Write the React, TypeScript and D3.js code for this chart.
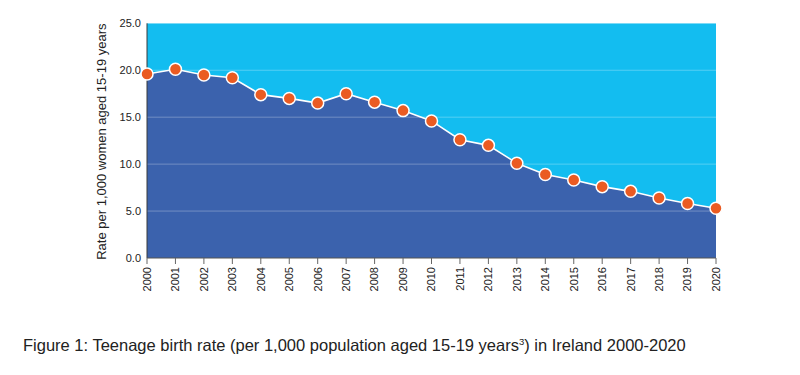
import React from "react";
import * as d3 from "d3";

const years: number[] = [2000, 2001, 2002, 2003, 2004, 2005, 2006, 2007, 2008, 2009, 2010, 2011, 2012, 2013, 2014, 2015, 2016, 2017, 2018, 2019, 2020];
const rates: number[] = [19.6, 20.1, 19.5, 19.2, 17.4, 17.0, 16.5, 17.5, 16.6, 15.7, 14.6, 12.6, 12.0, 10.1, 8.9, 8.3, 7.6, 7.1, 6.4, 5.8, 5.3];
const yTicks: number[] = [0, 5, 10, 15, 20, 25];
const yTitle = "Rate per 1,000 women aged 15-19 years";

export default function App() {
  const W = 800, H = 375;
  const left = 147, right = 716, top = 23.3, bottom = 258;
  const x = d3.scaleLinear().domain([years[0], years[years.length - 1]]).range([left, right]);
  const y = d3.scaleLinear().domain([0, 25]).range([bottom, top]);
  const data = years.map((yr, i) => ({ yr, v: rates[i] }));
  const area = d3.area<{ yr: number; v: number }>().x(d => x(d.yr)).y0(bottom).y1(d => y(d.v));
  const line = d3.line<{ yr: number; v: number }>().x(d => x(d.yr)).y(d => y(d.v));
  const font = "Liberation Sans, Arial, Helvetica, sans-serif";
  return (
    <svg width={W} height={H} style={{ position: "absolute", left: 0, top: 0, background: "#fff" }} fontFamily={font}>
      <rect x={left} y={top} width={right - left} height={bottom - top} fill="#13bdf0" />
      <path d={area(data) || ""} fill="#3b62ad" />
      {yTicks.filter(t => t > 0).map(t => (
        <line key={t} x1={left} x2={right} y1={y(t)} y2={y(t)} stroke="#ffffff" strokeOpacity={0.28} strokeWidth={1} />
      ))}
      <line x1={left} x2={left} y1={top} y2={bottom} stroke="#3a3a3a" strokeWidth={1} />
      <line x1={left} x2={right} y1={bottom} y2={bottom} stroke="#555" strokeWidth={1.2} />
      <path d={line(data) || ""} fill="none" stroke="#ffffff" strokeWidth={1.6} />
      {data.map(d => (
        <circle key={d.yr} cx={x(d.yr)} cy={y(d.v)} r={6} fill="#ea5b22" stroke="#ffffff" strokeWidth={1.5} />
      ))}
      {yTicks.map(t => (
        <text key={t} x={141} y={y(t)} dy="0.35em" textAnchor="end" fontSize={11} fill="#222">
          {d3.format(".1f")(t)}
        </text>
      ))}
      {years.map(yr => (
        <g key={yr}>
          <line x1={x(yr)} x2={x(yr)} y1={bottom} y2={bottom + 6} stroke="#666" strokeWidth={1} />
          <text transform={`translate(${x(yr)},${bottom + 9}) rotate(-90)`} textAnchor="end" dy="0.35em" fontSize={11} fill="#222">
            {yr}
          </text>
        </g>
      ))}
      <text transform={`translate(101,${(top + bottom) / 2 + 1}) rotate(-90)`} textAnchor="middle" dy="0.35em" fontSize={13} fill="#222">
        {yTitle}
      </text>
      <text x={23} y={351} fontSize={16.5} fill="#222">
        Figure 1: Teenage birth rate (per 1,000 population aged 15-19 years<tspan fontSize={9.5} dy={-6}>3</tspan><tspan dy={6}>) in Ireland 2000-2020</tspan>
      </text>
    </svg>
  );
}
